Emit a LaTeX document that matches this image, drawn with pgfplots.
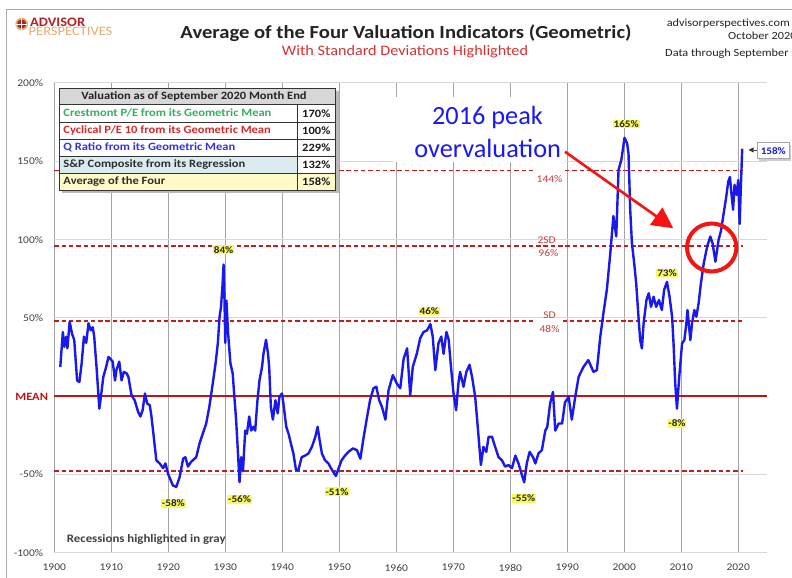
\documentclass[border=0pt]{standalone}
\usepackage{pgfplots}
\pgfplotsset{compat=1.18}
\usepackage{fontspec}
\setmainfont{Carlito}[FakeStretch=1.12]
\newfontfamily\annotfont{Carlito}
\usetikzlibrary{arrows.meta}
\newcommand{\fs}[1]{\fontsize{#1}{#1}\selectfont}
\definecolor{lineblue}{RGB}{25,25,235}
\definecolor{meanred}{RGB}{192,20,20}
\definecolor{dashred}{RGB}{192,30,30}
\definecolor{stdred}{RGB}{200,60,60}
\definecolor{gridv}{RGB}{165,165,165}
\definecolor{gridh}{RGB}{215,215,215}
\definecolor{labyellow}{RGB}{250,250,90}
\definecolor{ticktext}{RGB}{64,64,64}
\definecolor{titletext}{RGB}{35,35,35}
\definecolor{subred}{RGB}{215,50,50}
\definecolor{advred}{RGB}{175,35,40}
\definecolor{advtan}{RGB}{228,172,110}
\definecolor{crestgreen}{RGB}{50,175,95}
\definecolor{cycred}{RGB}{215,40,40}
\definecolor{qblue}{RGB}{50,50,215}
\definecolor{sptext}{RGB}{45,45,45}
\definecolor{spbg}{RGB}{218,236,242}
\definecolor{avgbg}{RGB}{255,250,200}
\definecolor{hdrbg}{RGB}{215,215,215}
\definecolor{annblue}{RGB}{25,25,245}
\definecolor{arrred}{RGB}{245,20,20}
\begin{document}
\begin{tikzpicture}[x=1bp,y=1bp]
\useasboundingbox (0,0) rectangle (792,578);
\fill[white] (0,0) rectangle (792,578);
\draw[gray!65, line width=1bp] (6,0) -- (6,568.7) -- (792,568.7);
\begin{axis}[
  at={(54.3bp,25.3bp)}, anchor=south west,
  scale only axis, width=712.4bp, height=469.7bp,
  xmin=1900, xmax=2025, ymin=-100, ymax=200,
  axis line style={draw=none},
  xtick={1900,1910,1920,1930,1940,1950,1960,1970,1980,1990,2000,2010,2020},
  xticklabels={1900,1910,1920,1930,1940,1950,1960,1970,1980,1990,2000,2010,2020},
  ytick={-100,-50,50,100,150,200},
  yticklabels={-100\%,-50\%,50\%,100\%,150\%,200\%},
  major tick length=0pt,
  xmajorgrids, ymajorgrids,
  x grid style={gridv, line width=1.3bp},
  y grid style={gridh, line width=1bp},
  xticklabel style={font=\fs{10.3}, text=ticktext, anchor=center, inner sep=0pt, yshift=-15bp},
  yticklabel style={font=\fs{10.3}, text=ticktext, anchor=east, inner sep=0pt, xshift=-11bp},
  clip=false,
]
% standard deviation lines
\addplot[dashred, line width=1.6bp, dash pattern=on 4.5bp off 2.8bp, no markers] coordinates {(1900,144) (1984,144)};
\addplot[dashred, line width=1.6bp, dash pattern=on 4.5bp off 2.8bp, no markers] coordinates {(1989.6,144) (2020.9,144)};
\addplot[dashred, line width=1.6bp, dash pattern=on 4.5bp off 2.8bp, no markers] coordinates {(1900,96) (2020.9,96)};
\addplot[dashred, line width=1.6bp, dash pattern=on 4.5bp off 2.8bp, no markers] coordinates {(1900,48) (1984.2,48)};
\addplot[dashred, line width=1.6bp, dash pattern=on 4.5bp off 2.8bp, no markers] coordinates {(1989.2,48) (2020.9,48)};
\addplot[dashred, line width=1.6bp, dash pattern=on 4.5bp off 2.8bp, no markers] coordinates {(1900,-48) (2020.9,-48)};
\addplot[meanred, line width=1.7bp, no markers] coordinates {(1900,0) (2025,0)};
% average of the four indicators
\addplot[lineblue, line width=2.4bp, line join=round, no markers] coordinates {
(1901.05,18.7) (1901.5,41) (1901.75,31.5) (1902.1,38) (1902.3,30.6) (1902.7,47.5)
(1903.1,40) (1903.5,35.8) (1904.0,10) (1904.4,9) (1904.8,21) (1905.2,38) (1905.6,34)
(1906.0,46.5) (1906.4,42) (1906.75,44) (1907.0,38) (1907.45,16.6) (1907.9,-8)
(1908.15,-1.3) (1908.6,12.3) (1909.1,18.7) (1909.5,25) (1909.8,24) (1910.25,22)
(1910.65,10) (1910.9,16.6) (1911.4,22) (1911.8,10) (1912.2,15.5) (1912.7,14.5)
(1913.0,12.3) (1913.55,0.6) (1914.1,-2.6) (1914.7,-10) (1915.1,-13) (1915.5,-9)
(1915.9,1.7) (1916.3,-4.7) (1916.75,-5.8) (1917.05,-13) (1917.45,-26) (1917.9,-41)
(1918.5,-43) (1919.1,-46) (1919.5,-43) (1920.0,-50) (1920.8,-57) (1921.4,-58)
(1922.0,-51.6) (1922.6,-40) (1923.0,-39) (1923.45,-45) (1924.0,-42) (1924.9,-39)
(1925.5,-30) (1926.05,-24) (1926.65,-17.5) (1927.2,-6.8) (1927.8,8) (1928.3,21)
(1928.7,34) (1929.0,50.7) (1929.25,57) (1929.5,70) (1929.7,84) (1929.85,63.5)
(1930.0,34) (1930.2,61) (1930.5,40) (1930.9,21) (1931.3,14.5) (1931.55,1.7)
(1931.9,-15) (1932.2,-34.5) (1932.5,-55) (1932.8,-39) (1933.1,-48) (1933.5,-22)
(1933.8,-24) (1934.2,-13) (1934.55,-22) (1934.95,-19.6) (1935.25,-22) (1935.65,-2.6)
(1936.0,10) (1936.45,18.7) (1936.7,27) (1937.15,36) (1937.5,27) (1937.7,18.7)
(1938.0,-7) (1938.35,-15) (1938.8,-2.6) (1939.2,-11) (1939.5,-0.5) (1939.95,1.7)
(1940.2,-4.7) (1940.7,-19.6) (1941.1,-24) (1941.5,-30) (1941.95,-36.6) (1942.4,-47)
(1942.85,-47) (1943.4,-39) (1944.0,-38) (1944.6,-36.6) (1945.2,-32.4) (1945.8,-26)
(1946.2,-19.6) (1946.55,-28) (1946.95,-36.6) (1947.5,-41) (1948.1,-43) (1948.7,-47)
(1949.4,-51) (1949.8,-47) (1950.4,-41) (1951.0,-38) (1951.6,-35.6) (1952.4,-33.4)
(1953.1,-34.5) (1953.7,-40) (1954.2,-28) (1954.8,-15) (1955.4,-2.6) (1956.0,5)
(1956.5,6) (1957.0,-2.6) (1957.5,-7) (1958.1,-15) (1958.65,3.8) (1959.4,13.4)
(1960.1,8) (1960.7,5) (1961.3,24) (1961.9,30.5) (1962.45,0.6) (1962.9,18.7)
(1963.6,27) (1964.2,37) (1964.8,41) (1965.4,42) (1966.0,46) (1966.4,38)
(1966.85,16.6) (1967.4,33.7) (1967.9,38) (1968.3,27) (1968.8,41) (1969.2,36)
(1969.6,18.7) (1970.05,1.7) (1970.5,-9) (1970.9,8) (1971.2,15.5) (1971.8,6)
(1972.3,15.5) (1972.85,20) (1973.3,12.3) (1973.85,-0.5) (1974.25,-17.5) (1974.85,-44)
(1975.3,-32.4) (1975.8,-35.6) (1976.2,-26) (1976.8,-26) (1977.35,-32.4) (1977.95,-39)
(1978.55,-41) (1979.1,-45) (1979.7,-44) (1980.3,-46) (1980.9,-38) (1981.45,-43)
(1982.05,-50.5) (1982.45,-55) (1982.9,-43) (1983.4,-35.6) (1984.0,-39) (1984.4,-43)
(1984.95,-36.6) (1985.55,-34.5) (1986.15,-22) (1986.5,-19.6) (1987.0,-4.7) (1987.5,2.7)
(1987.9,-22) (1988.5,-17.5) (1989.1,-17.5) (1989.6,-4) (1990.25,-0.5) (1990.8,-15)
(1991.4,-0.5) (1992.0,12.3) (1992.85,18.7) (1993.7,23) (1994.6,15.5) (1995.2,16.6)
(1995.8,38) (1996.35,53) (1996.95,68) (1997.55,91) (1998.1,115) (1998.6,102)
(1999.0,144.5) (1999.5,151) (2000.05,165) (2000.5,161.5) (2000.75,155) (2001.05,119)
(2001.35,97.6) (2001.75,84.8) (2002.1,72) (2002.5,50.7) (2002.8,35.8) (2003.1,30.5)
(2003.4,46.5) (2003.9,61.4) (2004.3,65.7) (2004.7,57) (2005.15,63.5) (2005.6,57)
(2006.1,61.4) (2006.6,55) (2007.0,67.8) (2007.5,73) (2007.95,63.5) (2008.4,50.7)
(2008.65,33.7) (2008.95,8) (2009.25,-8) (2009.65,12.3) (2010.15,33.7) (2010.55,35.8)
(2010.9,46.5) (2011.1,55) (2011.6,35.8) (2011.9,46.5) (2012.3,55) (2012.65,50.7)
(2013.05,59.3) (2013.45,72) (2013.95,84.8) (2014.55,95.5) (2015.1,101.9) (2015.5,97.6)
(2016.0,85.9) (2016.3,93.4) (2016.55,99.7) (2017.0,106) (2017.45,116.8) (2017.9,127.4)
(2018.25,137) (2018.55,140) (2018.8,129.6) (2019.1,119) (2019.35,135) (2019.7,128.5)
(2020.0,138) (2020.25,110) (2020.4,127) (2020.7,158)
};
% yellow value labels
\tikzset{ylab/.style={fill=labyellow, inner sep=0.8bp, font=\bfseries\fs{10}, text=black!85}}
\node[ylab] at (axis cs:1929.7,93.5) {84\%};
\node[ylab] at (axis cs:1920.9,-68.6) {-58\%};
\node[ylab] at (axis cs:1932.5,-66) {-56\%};
\node[ylab] at (axis cs:1949.6,-61) {-51\%};
\node[ylab] at (axis cs:1965.8,54.5) {46\%};
\node[ylab] at (axis cs:1982.4,-65.4) {-55\%};
\node[ylab] at (axis cs:2000.35,173.8) {165\%};
\node[ylab] at (axis cs:2007.5,78.7) {73\%};
\node[ylab] at (axis cs:2009.25,-17.5) {-8\%};
% SD labels
\tikzset{sdlab/.style={text=stdred, font=\fs{10.3}, inner sep=0.5bp}}
\node[sdlab] at (axis cs:1986.9,138.7) {144\%};
\node[sdlab] at (axis cs:1986.4,99.7) {2SD};
\node[sdlab] at (axis cs:1986.7,91.2) {96\%};
\node[sdlab] at (axis cs:1986.9,51.8) {SD};
\node[sdlab] at (axis cs:1986.9,42.9) {48\%};
\end{axis}
% MEAN label
\node[font=\bfseries\fs{11.2}, text=meanred] at (31.7,181.3) {MEAN};
% header
\fill[advtan] (21.7,554) circle (6.3);
\fill[advred] (21.7,554) circle (4.6);
\draw[white, line width=0.9bp] (16,554) -- (27.4,554) (21.7,548.3) -- (21.7,559.7);
\node[anchor=west, font=\bfseries\fs{13}, text=advred, inner sep=0pt] at (30,556) {ADVISOR};
\node[anchor=west, font=\fs{13}, text=advtan, inner sep=0pt] at (28.5,546.5) {PERSPECTIVES};
\node[font=\bfseries\fs{18.5}, text=titletext] at (406,544.5) {Average of the Four Valuation Indicators (Geometric)};
\node[font=\fs{14.5}, text=subred] at (405,526) {With Standard Deviations Highlighted};
\node[anchor=east, font=\fs{11}, text=titletext, inner sep=0pt] at (790,554) {advisorperspectives.com};
\node[anchor=west, font=\fs{11}, text=titletext, inner sep=0pt] at (728,542) {October 2020};
\node[anchor=west, font=\fs{11}, text=titletext, inner sep=0pt] at (665,524.5) {Data through September 2020};
% valuation table
\fill[gray!55] (62.3,385) rectangle (338.5,487);
\fill[hdrbg] (59.3,473.5) rectangle (335,490);
\fill[white] (59.3,388) rectangle (335,473.5);
\fill[spbg] (59.3,404.5) rectangle (297.7,421.5);
\fill[avgbg] (59.3,388) rectangle (335,404.5);
\draw[line width=0.6bp, black!80] (59.3,388) rectangle (335,490);
\foreach \yy in {404.5,421.5,439,456,473.5} {\draw[line width=0.6bp, black!80] (59.3,\yy) -- (335,\yy);}
\draw[line width=0.6bp, black!80] (297.7,388) -- (297.7,473.5);
\node[font=\bfseries\fs{11.2}, text=titletext] at (194,481.75) {Valuation as of September 2020 Month End};
\tikzset{trow/.style={anchor=west, font=\bfseries\fs{11.2}, inner sep=0pt}}
\node[trow, text=crestgreen] at (63.3,464.75) {Crestmont P/E from its Geometric Mean};
\node[trow, text=cycred] at (63.3,447.5) {Cyclical P/E 10 from its Geometric Mean};
\node[trow, text=qblue] at (63.3,430.25) {Q Ratio from its Geometric Mean};
\node[trow, text=sptext] at (63.3,413) {S\&P Composite from its Regression};
\node[trow, text=sptext] at (63.3,396.25) {Average of the Four};
\tikzset{tval/.style={font=\bfseries\fs{11.2}, text=black!90, inner sep=0pt}}
\node[tval] at (316.3,464.75) {170\%};
\node[tval] at (316.3,447.5) {100\%};
\node[tval] at (316.3,430.25) {229\%};
\node[tval] at (316.3,413) {132\%};
\node[tval] at (316.3,396.25) {158\%};
% recessions note
\node[anchor=west, font=\bfseries\fs{11.5}, text=black!75, inner sep=0pt] at (66.7,38.7) {Recessions highlighted in gray};
% last value box
\fill[gray!40] (759.3,417.3) rectangle (791.3,433.3);
\draw[gray!70, fill=white, line width=0.8bp] (757.3,419.3) rectangle (789.3,435.3);
\node[font=\bfseries\fs{10}, text=lineblue] at (773.3,427.3) {158\%};
\fill[black!80] (748.5,428) -- (753.5,430.5) -- (753.5,425.5) -- cycle;
\draw[black!70, line width=0.6bp] (753.5,428) -- (757.3,428);
% 2016 annotation
\fill[white] (393,415.5) rectangle (565,480.5);
\node[anchor=base, font=\annotfont\fs{26.4}, text=annblue, inner sep=0pt] at (487.5,453) {2016 peak};
\node[anchor=base, font=\annotfont\fs{26.4}, text=annblue, inner sep=0pt] at (487.7,420.7) {overvaluation};
\draw[arrred, line width=2.6bp, -{Triangle[length=21bp,width=21bp]}] (565,426.3) -- (673.3,349.7);
\draw[arrred, line width=4bp] (711.7,330.5) ellipse [x radius=24.7, y radius=24];
\end{tikzpicture}
\end{document}
